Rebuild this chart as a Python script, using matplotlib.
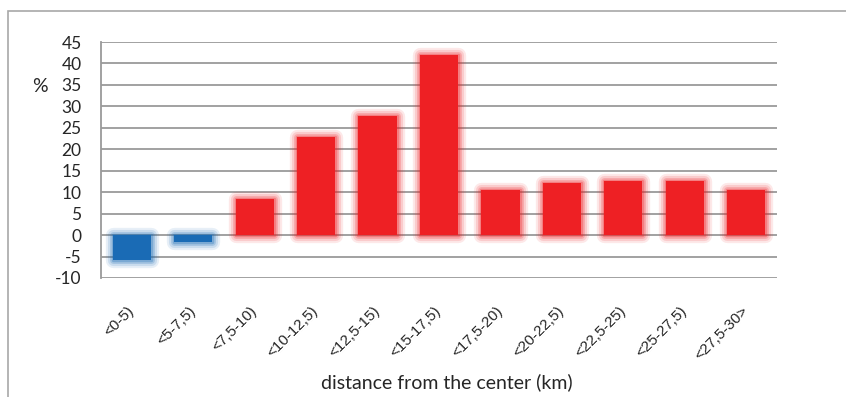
import numpy as np
import matplotlib.pyplot as plt
from matplotlib.patches import Rectangle

# --- data: change in share by distance ring ---
categories = ['<0-5)', '<5-7,5)', '<7,5-10)', '<10-12,5)', '<12,5-15)', '<15-17,5)',
              '<17,5-20)', '<20-22,5)', '<22,5-25)', '<25-27,5)', '<27,5-30>']
values = [-5.7, -1.6, 8.4, 22.8, 27.7, 41.9, 10.5, 12.1, 12.5, 12.5, 10.5]
y_ticks = list(range(-10, 50, 5))

blue = '#1a6bb5'
red = '#ee2024'
text_col = '#262626'

plt.rcParams['font.family'] = ['Lato', 'DejaVu Sans']

fig = plt.figure(figsize=(8.46, 3.97), dpi=100)
ax = fig.add_axes([101 / 846, 1 - 278 / 397, 676 / 846, 236 / 397])

# outer chart border (only left and top visible)
fig.patches.append(Rectangle((8 / 846, -0.1), 1.2, 1 - 11 / 397 + 0.1,
                             transform=fig.transFigure, fill=False,
                             edgecolor='#a8a8a8', linewidth=1.2))

x = np.arange(len(categories))
colors = [blue if v < 0 else red for v in values]
width = 0.62

# soft glow around each bar
for lw, a in [(11, 0.10), (8, 0.14), (5, 0.2), (2.5, 0.3)]:
    ax.bar(x, values, width=width, color='none', edgecolor=colors,
           linewidth=lw, alpha=a, joinstyle='round', zorder=2)
ax.bar(x, values, width=width, color=colors, linewidth=0, zorder=3)

ax.set_xlim(-0.5, len(categories) - 0.5)
ax.set_ylim(-10, 45)
ax.set_yticks(y_ticks)
ax.set_yticklabels([str(t) for t in y_ticks], fontsize=12.5, color=text_col)
ax.yaxis.grid(True, color='#9a9a9a', linewidth=1.3)
ax.set_axisbelow(True)
ax.tick_params(axis='y', length=0, pad=14)

ax.set_xticks(x)
ax.set_xticklabels(categories, rotation=45, ha='right', va='center',
                   rotation_mode='anchor', fontsize=11, color=text_col,
                   family=['Liberation Sans', 'DejaVu Sans'])
ax.tick_params(axis='x', length=0, pad=22)

for side in ['top', 'right', 'bottom']:
    ax.spines[side].set_visible(False)
ax.spines['left'].set_color('#9a9a9a')
ax.spines['left'].set_linewidth(1.3)

fig.text(40 / 846, 1 - 87 / 397, '%', fontsize=14, color=text_col,
         ha='center', va='center')
fig.text(447 / 846, 1 - 382 / 397, 'distance from the center (km)', fontsize=14,
         color=text_col, ha='center', va='center')

fig.savefig('out.png', dpi=100, facecolor='white')
